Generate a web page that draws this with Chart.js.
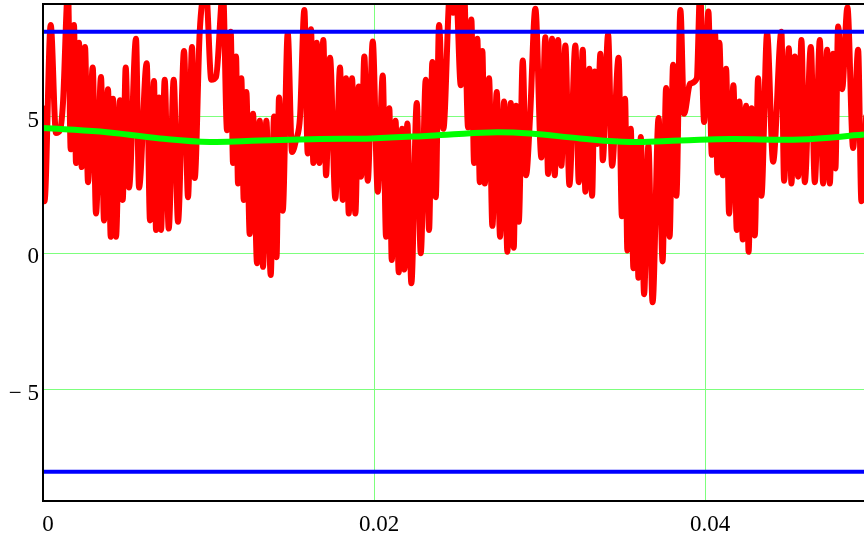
<!DOCTYPE html>
<html>
<head>
<meta charset="utf-8">
<script src="https://cdn.jsdelivr.net/npm/chart.js@4.4.1/dist/chart.umd.min.js"></script>
<style>
  body { margin: 0; background: #fff; }
  #wrap { width: 864px; height: 542px; position: relative; }
</style>
</head>
<body>
<div id="wrap"><canvas id="plot"></canvas></div>
<script>
// signal samples: time in ms, amplitude
const sigTime = [
  0.000, 0.091, 0.465, 0.786, 1.027, 1.208, 1.511, 1.674, 1.873, 1.994,
  2.175, 2.338, 2.538, 2.719, 3.003, 3.202, 3.505, 3.686, 3.927, 4.091,
  4.230, 4.411, 4.653, 4.816, 4.997, 5.196, 5.619, 5.801, 6.266, 6.465,
  6.707, 6.828, 7.009, 7.130, 7.353, 7.595, 7.897, 8.157, 8.520, 8.761,
  9.003, 9.166, 9.468, 9.849, 10.169, 10.453, 10.876, 11.118, 11.341, 11.480,
  11.662, 11.782, 11.982, 12.127, 12.284, 12.489, 12.689, 12.931, 13.094, 13.293,
  13.492, 13.758, 13.958, 14.109, 14.260, 14.483, 14.785, 15.045, 15.287, 15.529,
  15.789, 15.994, 16.193, 16.332, 16.538, 16.695, 16.937, 17.100, 17.341, 17.662,
  17.946, 18.109, 18.308, 18.471, 18.671, 18.870, 19.076, 19.215, 19.414, 19.619,
  19.921, 20.224, 20.526, 20.725, 20.924, 21.069, 21.299, 21.492, 21.692, 21.831,
  22.012, 22.254, 22.580, 22.822, 23.124, 23.323, 23.523, 23.728, 23.927, 24.187,
  24.592, 24.773, 24.955, 25.239, 25.438, 25.680, 25.879, 26.042, 26.242, 26.387,
  26.544, 26.689, 26.949, 27.148, 27.414, 27.613, 27.855, 28.054, 28.260, 28.441,
  28.580, 28.743, 28.985, 29.184, 29.426, 29.746, 30.109, 30.350, 30.514, 30.755,
  30.918, 31.118, 31.317, 31.559, 31.801, 32.163, 32.369, 32.610, 32.767, 33.009,
  33.172, 33.335, 33.474, 33.674, 33.819, 34.139, 34.381, 34.773, 34.973, 35.166,
  35.305, 35.511, 35.668, 35.861, 35.970, 36.115, 36.314, 36.574, 36.828, 37.190,
  37.432, 37.644, 37.855, 38.066, 38.266, 38.508, 38.731, 39.094, 39.498, 39.698,
  39.940, 40.199, 40.405, 40.604, 40.743, 40.864, 41.069, 41.269, 41.450, 41.710,
  41.915, 42.073, 42.278, 42.477, 42.628, 42.810, 43.003, 43.202, 43.402, 43.746,
  44.109, 44.610, 44.773, 45.057, 45.215, 45.420, 45.619, 45.819, 46.024, 46.387,
  46.628, 46.931, 47.130, 47.372, 47.535, 47.734, 47.873, 48.036, 48.278, 48.598,
  48.943, 49.245, 49.444, 49.728
];
const sigValue = [
  5.3, 1.9, 8.35, 4.4, 4.5, 5.5, 9.6, 3.8, 8.35, 3.3,
  7.7, 3.15, 7.55, 2.6, 6.8, 1.45, 6.45, 1.2, 6.0, 0.6,
  5.65, 0.6, 5.6, 1.95, 6.8, 2.4, 7.85, 2.4, 6.95, 1.2,
  6.3, 0.85, 5.7, 0.85, 6.35, 0.9, 6.35, 1.15, 7.4, 2.05,
  7.55, 2.75, 8.1, 9.6, 6.35, 6.45, 9.6, 4.5, 8.1, 3.3,
  7.2, 2.55, 6.4, 1.95, 5.9, 0.7, 5.1, -0.37, 4.85, -0.5,
  4.85, -0.8, 5.0, -0.15, 5.7, 1.55, 8.05, 3.7, 4.15, 5.0,
  8.9, 3.65, 8.2, 3.3, 7.7, 3.3, 7.8, 2.85, 7.15, 2.0,
  6.8, 1.95, 6.4, 1.45, 6.4, 1.45, 6.1, 2.8, 7.2, 2.65,
  7.75, 2.25, 6.5, 0.6, 5.3, -0.25, 4.85, -0.7, 4.55, -0.6,
  4.75, -1.1, 5.5, 0.0, 6.35, 0.85, 7.0, 2.05, 8.35, 4.55,
  9.6, 8.8, 9.6, 6.15, 9.6, 4.6, 8.55, 3.3, 7.85, 2.6,
  7.4, 2.55, 6.4, 1.0, 5.9, 0.6, 5.55, 0.05, 5.5, 0.2,
  5.4, 1.15, 7.05, 2.85, 5.0, 8.95, 3.5, 7.9, 2.9, 7.85,
  2.85, 7.8, 3.2, 7.6, 2.5, 7.6, 2.6, 7.45, 2.25, 6.75,
  2.1, 6.65, 4.0, 7.3, 3.4, 8.0, 3.2, 7.15, 1.35, 5.65,
  0.1, 4.55, -0.55, 3.9, -0.9, 4.25, -1.5, 3.95, -1.8, 4.95,
  -0.3, 6.05, 0.6, 6.9, 2.1, 8.9, 5.1, 6.2, 6.4, 9.6,
  4.8, 8.85, 3.6, 8.05, 2.95, 7.7, 2.85, 6.75, 1.45, 6.15,
  0.85, 5.55, 0.5, 5.4, 0.05, 5.3, 0.65, 6.4, 2.1, 8.05,
  3.35, 8.1, 2.65, 7.5, 2.55, 7.2, 2.8, 7.8, 2.6, 7.55,
  2.6, 7.8, 2.55, 7.45, 2.55, 7.3, 3.1, 8.3, 6.0, 9.0,
  3.85, 7.45, 1.9, 5.0
];

// running mean of the signal
const meanTime = [0, 3.45, 7.07, 10.09, 13.11, 16.74, 19.88, 23.38, 27.01, 29.43, 32.45, 35.47, 38.49, 41.51, 45.74, 49.6, 50];
const meanValue = [4.58, 4.45, 4.2, 4.07, 4.12, 4.18, 4.2, 4.3, 4.42, 4.38, 4.2, 4.07, 4.12, 4.18, 4.16, 4.34, 4.36];

// limit levels
const limitTime = [0, 50];
const upperLimit = 8.1;
const lowerLimit = -8.0;

const xTicks = [0, 0.02, 0.04];
const yTicks = [-5, 0, 5];

const toPoints = (t, v) => t.map((ms, i) => ({ x: ms / 1000, y: v[i] }));
const flat = (t, level) => t.map(ms => ({ x: ms / 1000, y: level }));

const serif = { family: "'Liberation Serif', 'Times New Roman', serif", size: 23 };
const gridGreen = '#7dff7d';

// fixed axis boxes so the plot frame sits where it should
const noPad = s => { s.paddingTop = 0; s.paddingBottom = 0; s.paddingLeft = 0; s.paddingRight = 0; };

new Chart(document.getElementById('plot'), {
  type: 'line',
  data: {
    datasets: [
      { data: flat(limitTime, upperLimit), borderColor: '#0000ff', borderWidth: 4 },
      { data: flat(limitTime, lowerLimit), borderColor: '#0000ff', borderWidth: 4 },
      { data: toPoints(meanTime, meanValue), borderColor: '#00ff00', borderWidth: 6, tension: 0.4 },
      {
        data: toPoints(sigTime, sigValue), borderColor: '#ff0000', borderWidth: 6,
        cubicInterpolationMode: 'monotone', borderJoinStyle: 'round', borderCapStyle: 'round'
      }
    ]
  },
  options: {
    responsive: true,
    maintainAspectRatio: false,
    animation: false,
    layout: { padding: 0 },
    elements: { point: { radius: 0 }, line: { fill: false } },
    plugins: { legend: { display: false }, tooltip: { enabled: false } },
    scales: {
      x: {
        type: 'linear',
        min: 0,
        max: 0.0496,
        afterBuildTicks: s => { s.ticks = xTicks.map(v => ({ value: v })); },
        afterFit: s => { s.height = 41; noPad(s); },
        grid: { color: gridGreen, lineWidth: 1, drawTicks: false },
        border: { color: '#000', width: 2, z: 1 },
        ticks: {
          color: '#000', font: serif, padding: 10, labelOffset: 5, maxRotation: 0,
          callback: v => String(v)
        }
      },
      top: {
        type: 'linear',
        position: 'top',
        min: 0,
        max: 0.0496,
        afterFit: s => { s.height = 4; noPad(s); },
        grid: { display: false, drawTicks: false },
        border: { color: '#000', width: 2, z: 1 },
        ticks: { display: false }
      },
      y: {
        type: 'linear',
        min: -9.07,
        max: 9.12,
        afterBuildTicks: s => { s.ticks = yTicks.map(v => ({ value: v })); },
        afterFit: s => { s.width = 43; noPad(s); },
        grid: { color: gridGreen, lineWidth: 1, drawTicks: false },
        border: { color: '#000', width: 2, z: 1 },
        ticks: {
          color: '#000', font: serif, padding: 4, labelOffset: 4,
          callback: v => v < 0 ? '\u2212 ' + Math.abs(v) : String(v)
        }
      }
    }
  }
});
</script>
</body>
</html>
